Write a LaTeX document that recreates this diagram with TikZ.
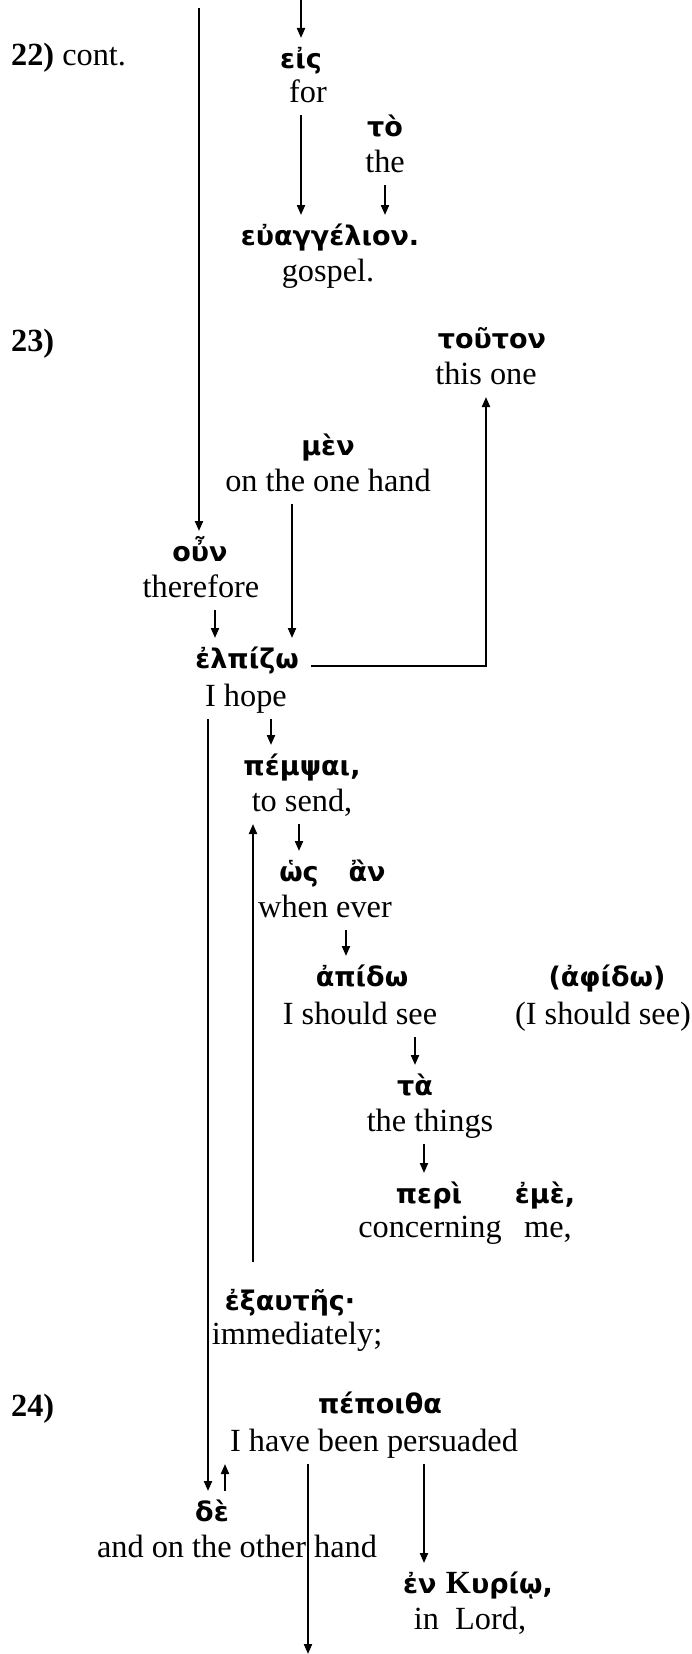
\documentclass[tikz,border=0pt]{standalone}
\usepackage{fontspec}
\setmainfont{Liberation Serif}
\newfontfamily\greekfont{DejaVu Sans}
\usetikzlibrary{arrows.meta}

\newcommand{\enfont}{\fontsize{32.3}{36}\selectfont}
\newcommand{\gkfont}{\greekfont\bfseries\fontsize{27}{30}\selectfont}

\tikzset{
  gk/.style={font=\gkfont, inner sep=0pt, outer sep=6pt, anchor=base, text height=24pt, text depth=7pt},
  en/.style={font=\enfont, inner sep=0pt, outer sep=6pt, anchor=base, text height=22.6pt, text depth=7pt},
  versenum/.style={font=\enfont, inner sep=0pt, anchor=base west},
  arr/.style={line width=2pt, -{Triangle[length=10pt,width=8pt]}}
}

\begin{document}
\begin{tikzpicture}[x=1pt,y=-1pt]
  \useasboundingbox (0,0) rectangle (691,1654);
  % verse numbers
  \node[versenum] (v22) at (11,66) {\textbf{22)} cont.};
  \node[versenum] (v23) at (11,351) {\textbf{23)}};
  \node[versenum] (v24) at (11,1416) {\textbf{24)}};

  % 22 cont.
  \node[gk] (eis) at (301,68) {εἰς};
  \node[en] (for) at (308,102) {for};
  \node[gk] (tothe) at (385,136) {τὸ};
  \node[en] (the) at (385,172) {the};
  \node[gk] (euangelion) at (330,245) {εὐαγγέλιον.};
  \node[en] (gospel) at (328,281) {gospel.};

  % 23
  \node[gk] (touton) at (492,348) {τοῦτον};
  \node[en] (thisone) at (486,384) {this one};
  \node[gk] (men) at (328,455) {μὲν};
  \node[en] (onehand) at (328,491) {on the one hand};
  \node[gk] (oun) at (200,561) {οὖν};
  \node[en] (therefore) at (201,597) {therefore};
  \node[gk] (elpizo) at (247,668) {ἐλπίζω};
  \node[en] (ihope) at (246,706) {I hope};
  \node[gk] (pempsai) at (302,775) {πέμψαι,};
  \node[en] (tosend) at (302,811) {to send,};
  \node[gk] (hos) at (299,881) {ὡς};
  \node[gk] (an) at (367,881) {ἂν};
  \node[en] (whenever) at (325,917) {when ever};
  \node[gk] (apido) at (362,986) {ἀπίδω};
  \node[en] (shouldsee) at (360,1024) {I should see};
  \node[gk] (aphido) at (607,986) {(ἀφίδω)};
  \node[en] (shouldseealt) at (603,1024) {(I should see)};
  \node[gk] (ta) at (415,1095) {τὰ};
  \node[en] (things) at (430,1131) {the things};
  \node[gk] (peri) at (429,1203) {περὶ};
  \node[gk] (eme) at (545,1203) {ἐμὲ,};
  \node[en] (concerning) at (430,1237) {concerning};
  \node[en] (me) at (548,1237) {me,};
  \node[gk] (exautes) at (290,1310) {ἐξαυτῆς·};
  \node[en] (immediately) at (297,1344) {immediately;};

  % 24
  \node[gk] (pepoitha) at (380,1413) {πέποιθα};
  \node[en] (persuaded) at (374,1451) {I have been persuaded};
  \node[gk] (de) at (212,1521) {δὲ};
  \node[en] (otherhand) at (237,1557) {and on the other hand};
  \node[gk] (enkyrio) at (478,1593) {ἐν {\rmfamily\enfont\bfseries Κ}υρίῳ,};
  \node[en] (inlord) at (470,1629) {in\enspace Lord,};

  % connectors
  \coordinate (topin) at (301,0);
  \coordinate (topleft) at (199,8);
  \coordinate (bottomout) at (308,1654);
  \draw[arr] (topin) -- (eis.north);
  \draw[arr] (topleft) -- (oun.north -| topleft);
  \draw[arr] (for.south -| eis) -- (euangelion.north -| eis);
  \draw[arr] (the.south) -- (euangelion.north -| the);
  \draw[arr] ([xshift=14pt]therefore.south) -- ([xshift=-32pt]elpizo.north);
  \draw[arr] ([xshift=-36pt]onehand.south) -- ([xshift=45pt]elpizo.north);
  \draw[arr] ([xshift=6pt]elpizo.mid east) -| (thisone.south);
  \draw[arr] ([xshift=-38pt]ihope.south) -- ([xshift=-4pt]de.north);
  \draw[arr] ([xshift=25pt]ihope.south) -- ([xshift=-31pt]pempsai.north);
  \draw[arr] (tosend.south -| hos) -- (hos.north);
  \draw[arr, shorten <=18pt] ([xshift=-37pt]exautes.north) -- ([xshift=-49pt]tosend.south);
  \draw[arr] ([xshift=21pt]whenever.south) -- ([xshift=-16pt]apido.north);
  \draw[arr] (shouldsee.south -| ta) -- (ta.north);
  \draw[arr] ([xshift=-6pt]things.south) -- ([xshift=-5pt]peri.north);
  \draw[arr] ([xshift=13pt]de.north) -- ([xshift=-149pt]persuaded.south);
  \draw[arr] ([xshift=50pt]persuaded.south) -- ([xshift=-54pt]enkyrio.north);
  \draw[arr] ([xshift=-66pt]persuaded.south) -- (bottomout);
\end{tikzpicture}
\end{document}
